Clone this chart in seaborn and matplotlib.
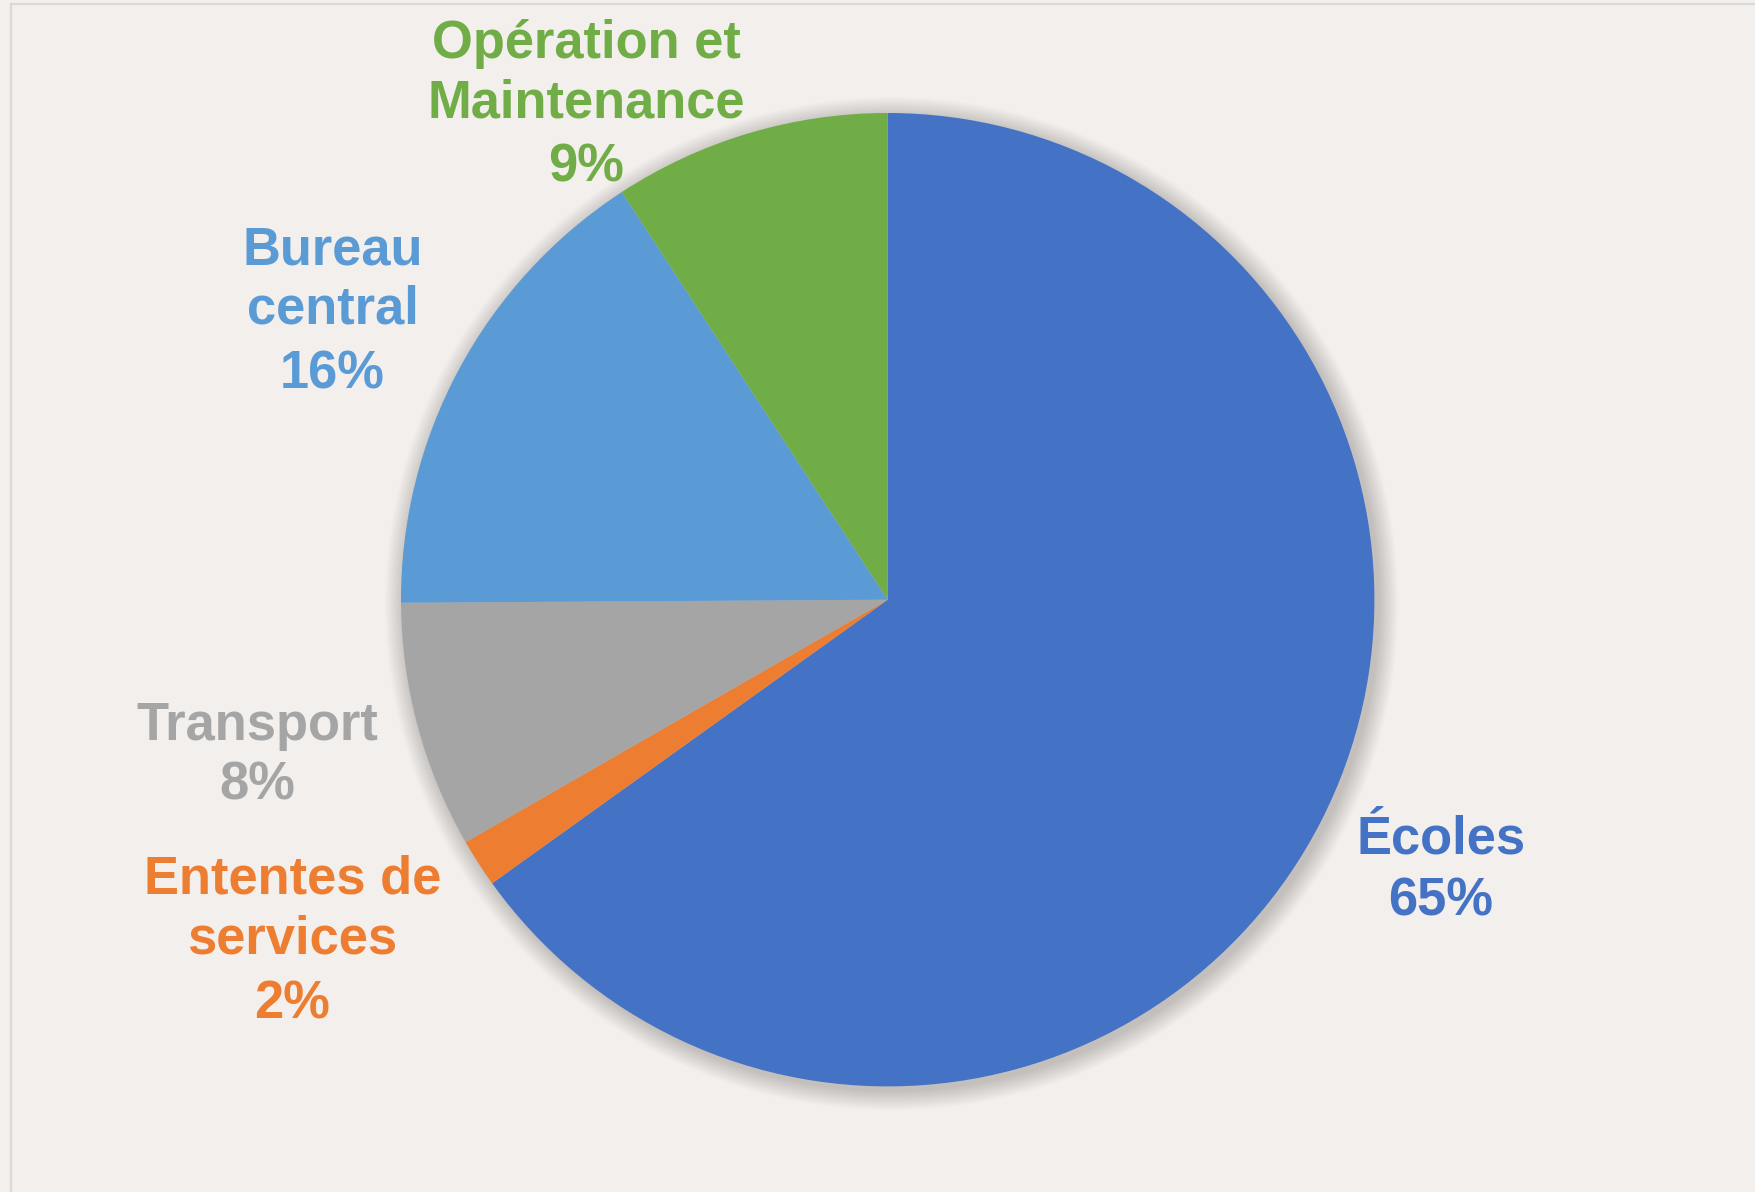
import numpy as np
import pandas as pd
import matplotlib
matplotlib.use("Agg")
import matplotlib.pyplot as plt
from matplotlib.patches import Circle
from matplotlib.lines import Line2D
import seaborn as sns

# ---- data ----
categories = ["Écoles", "Ententes de\nservices", "Transport", "Bureau\ncentral", "Opération et\nMaintenance"]
shares = [65.1, 1.6, 8.2, 15.9, 9.2]
colors = ["#4472C4", "#ED7D31", "#A5A5A5", "#5B9BD5", "#70AD47"]

df = pd.DataFrame({"category": categories, "share": shares, "color": colors})
df["pct"] = df["share"] / df["share"].sum() * 100

# ---- layout (pixels) ----
W, H = 1756, 1192
BG = "#F2EFEC"
CX, CY, R = 887.7, 599.7, 486.7          # pie centre / radius in px (from top-left)
# label x-centre, baseline of last category line, baseline of percentage line (px)
label_pos = [(1440.7, 854.0, 915.0), (292.5, 953.3, 1018.3), (257.0, 740.0, 800.0),
             (332.5, 324.0, 388.3), (586.5, 117.3, 181.7)]

sns.set_theme(style="white")
plt.rcParams["font.family"] = ["Liberation Sans", "DejaVu Sans"]

fig = plt.figure(figsize=(W / 100, H / 100), dpi=100, facecolor=BG)
ax = fig.add_axes([0, 0, 1, 1])
ax.set_facecolor(BG)

def to_data(px, py):
    return (px - CX) / R, (CY - py) / R

# soft shadow behind the pie
off = 4.0 / R
n_layers = 24
for k in range(n_layers, 0, -1):
    rad = 1.0 + k * (20.0 / R) / n_layers
    ax.add_patch(Circle((off, -off), rad, facecolor="#3a3028", edgecolor="none",
                        alpha=0.009, zorder=0))

wedges, _ = ax.pie(df["share"], colors=df["color"], startangle=90, counterclock=False,
                   radius=1.0, center=(0, 0),
                   wedgeprops=dict(linewidth=0, edgecolor="none"))
for w in wedges:
    w.set_zorder(2)

FS = 37.8
for (cat, pct, col), (px, py_cat, py_pct) in zip(df[["category", "pct", "color"]].values, label_pos):
    x, y = to_data(px, py_cat)
    ax.text(x, y, cat, color=col, fontsize=FS, fontweight="bold",
            ha="center", va="baseline", multialignment="center", linespacing=1.25,
            zorder=5)
    x, y = to_data(px, py_pct)
    ax.text(x, y, f"{pct:.0f}%", color=col, fontsize=FS, fontweight="bold",
            ha="center", va="baseline", zorder=5)

ax.set_xlim(-CX / R, (W - CX) / R)
ax.set_ylim(-(H - CY) / R, CY / R)
ax.set_aspect("equal", adjustable="box")
ax.axis("off")

# thin frame (left and top edges)
lc = "#D9D9D9"
fig.add_artist(Line2D([11 / W, 11 / W], [0, 1 - 4 / H], color=lc, linewidth=1.6,
                      transform=fig.transFigure))
fig.add_artist(Line2D([11 / W, 1], [1 - 4 / H, 1 - 4 / H], color=lc, linewidth=1.6,
                      transform=fig.transFigure))

fig.savefig("out.png", dpi=100, facecolor=BG)
